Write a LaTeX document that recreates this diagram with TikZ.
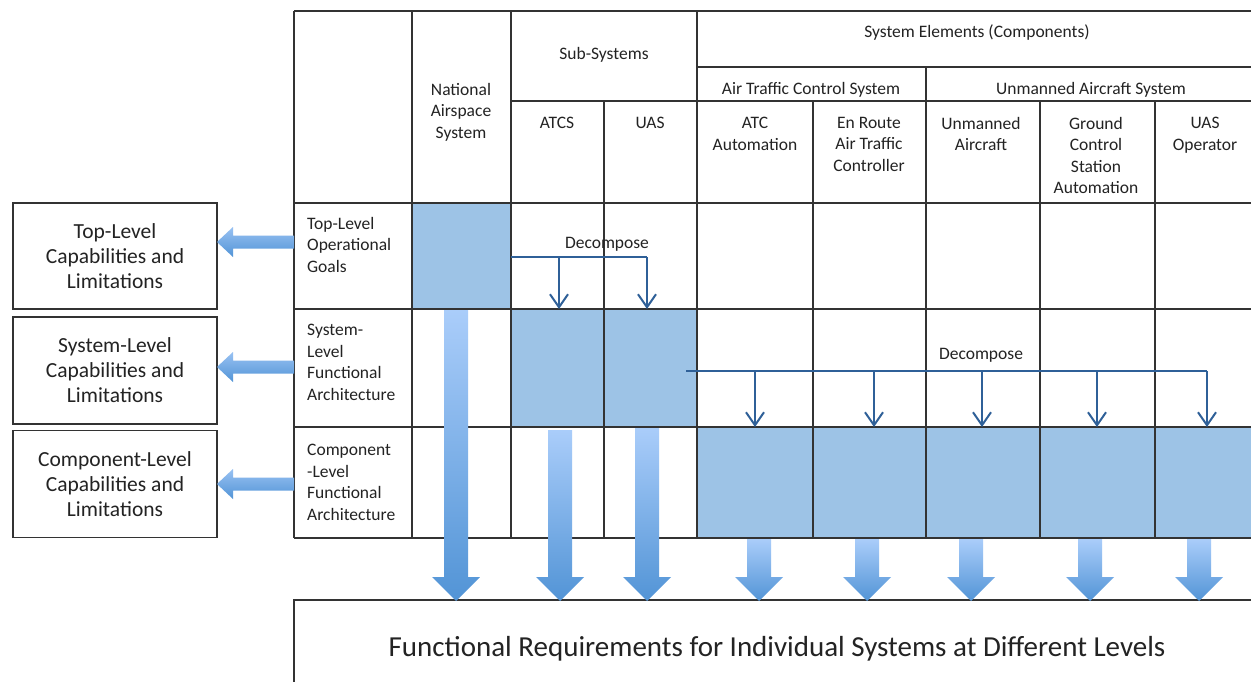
\documentclass[tikz,border=0pt]{standalone}
\usepackage{fontspec}
\setmainfont{Carlito}
\usetikzlibrary{arrows.meta,positioning}
\definecolor{CellBlue}{RGB}{157,195,230}
\definecolor{LinkBlue}{RGB}{47,96,152}
\definecolor{ArrowTop}{RGB}{170,205,250}
\definecolor{ArrowBot}{RGB}{82,148,214}
\definecolor{InkGray}{RGB}{35,35,35}
\tikzset{
  gridline/.style={draw=black!80,line width=1.3pt},
  cellfill/.style={fill=CellBlue,inner sep=0pt,outer sep=0pt,anchor=north west},
  headtext/.style={align=center,inner sep=0pt,text=InkGray,
    font=\fontsize{17.5}{21.5}\selectfont},
  rowtext/.style={align=left,inner sep=0pt,anchor=north west,text=InkGray,
    font=\fontsize{17.5}{21.5}\selectfont},
  capbox/.style={draw=black!80,line width=1.3pt,minimum width=204pt,
    minimum height=106pt,align=center,text=InkGray,
    font=\fontsize{21.5}{25}\selectfont},
  fatarrow/.style={top color=ArrowTop,bottom color=ArrowBot},
  sidearrow/.style={top color=ArrowTop!80!ArrowBot,bottom color=ArrowBot},
  decompbar/.style={draw=LinkBlue,line width=2.8pt},
  decompdrop/.style={draw=LinkBlue,line width=1.7pt,
    -{Straight Barb[length=13pt,width=18pt,line width=2pt]}},
}
\begin{document}
\begin{tikzpicture}[x=1pt,y=-1pt]
  \clip (0,0) rectangle (1251,682);
  \fill[white] (0,0) rectangle (1251,682);

  % shaded cells
  \node[cellfill,minimum width=99pt,minimum height=106pt] (nasTop) at (412,203) {};
  \node[cellfill,minimum width=93pt,minimum height=118pt] (atcsSys) at (511,309) {};
  \node[cellfill,minimum width=93pt,minimum height=118pt] (uasSys) at (604,309) {};
  \node[cellfill,minimum width=116pt,minimum height=111pt] (atcAuto) at (697,427) {};
  \node[cellfill,minimum width=113pt,minimum height=111pt] (enRoute) at (813,427) {};
  \node[cellfill,minimum width=114pt,minimum height=111pt] (uaCraft) at (926,427) {};
  \node[cellfill,minimum width=115pt,minimum height=111pt] (gcsAuto) at (1040,427) {};
  \node[cellfill,minimum width=115pt,minimum height=111pt] (uasOp) at (1155,427) {};

  % table grid
  \draw[gridline] (294,11) -- (1270,11);
  \draw[gridline] (697,67) -- (1270,67);
  \draw[gridline] (511,101) -- (1270,101);
  \foreach \gy in {203,309,427,538}
    \draw[gridline] (294,\gy) -- (1270,\gy);
  \foreach \gx in {294,412,511,697}
    \draw[gridline] (\gx,11) -- (\gx,538);
  \draw[gridline] (926,67) -- (926,538);
  \foreach \gx in {604,813,1040,1155}
    \draw[gridline] (\gx,101) -- (\gx,538);

  % bottom box
  \draw[gridline] (294,700) -- (294,600) -- (1270,600);
  \node[text=InkGray,font=\fontsize{29}{34}\selectfont] (funcReq) at (777,649)
    {Functional Requirements for Individual Systems at Different Levels};

  % header texts
  \node[headtext] (nasHead) at (461,112) {National\\Airspace\\System};
  \node[headtext] (subHead) at (604,55) {Sub-Systems};
  \node[headtext] (elemHead) at (977,33) {System Elements (Components)};
  \node[headtext] (atcsGroup) at (811,90) {Air Traffic Control System};
  \node[headtext] (uasGroup) at (1091,90) {Unmanned Aircraft System};
  \node[headtext,anchor=north] (atcsHead) at (557,117) {ATCS};
  \node[headtext,anchor=north] (uasHead) at (650,117) {UAS};
  \node[headtext,anchor=north] (atcHead) at (755,117) {ATC\\Automation};
  \node[headtext,anchor=north] (enrHead) at (869,117) {En Route\\Air Traffic\\Controller};
  \node[headtext,anchor=north] (uacHead) at (981,117) {Unmanned\\Aircraft};
  \node[headtext,anchor=north] (gcsHead) at (1096,117) {Ground\\Control\\Station\\Automation};
  \node[headtext,anchor=north] (opHead) at (1205,117) {UAS\\Operator};

  % row labels
  \node[rowtext] (rowTop) at (307,217) {Top-Level\\Operational\\Goals};
  \node[rowtext] (rowSys) at (307,324) {System-\\Level\\Functional\\Architecture};
  \node[rowtext] (rowComp) at (307,444) {Component\\-Level\\Functional\\Architecture};

  % capability boxes
  \node[capbox] (capTop) at (115,256) {Top-Level\\Capabilities and\\Limitations};
  \node[capbox,minimum height=107pt] (capSys) at (115,370.5) {System-Level\\Capabilities and\\Limitations};
  \node[capbox,minimum height=107pt] (capComp) at (115,484) {Component-Level\\Capabilities and\\Limitations};

  % arrows to the capability boxes
  \foreach \ay in {242,367,484}
    \shade[sidearrow] (294,\ay-6.5) -- (233,\ay-6.5) -- (233,\ay-15) -- (217,\ay)
      -- (233,\ay+15) -- (233,\ay+6.5) -- (294,\ay+6.5) -- cycle;

  % arrows to the requirements box
  \foreach \ax/\at in {456/310,560/430,647/428,759/539,867/539,971/539,1090/539,1199/539}
    \shade[fatarrow] (\ax-12,\at) -- (\ax+12,\at) -- (\ax+12,577) -- (\ax+24,577)
      -- (\ax,601) -- (\ax-24,577) -- (\ax-12,577) -- cycle;

  % decompose: top level to sub-systems
  \coordinate (splitA) at (511,257);
  \coordinate (splitAend) at (647,257);
  \draw[decompbar] (splitA) -- (splitAend);
  \foreach \bx in {559,647}
    \draw[decompdrop] (\bx,257) -- (\bx,309);
  \node[headtext] (decompA) at (607,244) {Decompose};

  % decompose: sub-systems to components
  \coordinate (splitB) at (686,371);
  \coordinate (splitBend) at (1207,371);
  \draw[decompbar] (splitB) -- (splitBend);
  \foreach \bx in {755,874,982,1097,1207}
    \draw[decompdrop] (\bx,371) -- (\bx,427);
  \node[headtext] (decompB) at (981,355) {Decompose};
\end{tikzpicture}
\end{document}
